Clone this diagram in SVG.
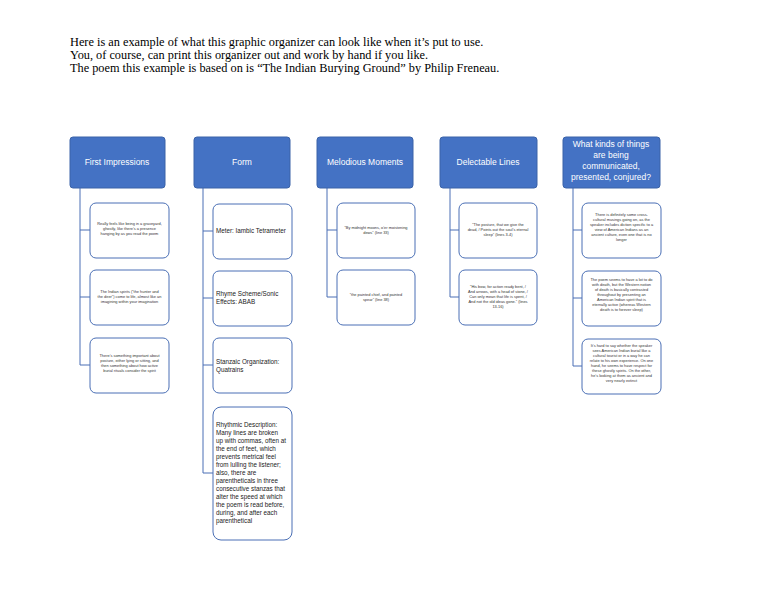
<svg xmlns="http://www.w3.org/2000/svg" width="768" height="594" viewBox="0 0 768 594">
<style>
.h{fill:#4472c4;stroke:#3a62a8;stroke-width:1}
.hb{fill:#fff;font-family:"Liberation Sans",sans-serif;font-size:8.5px;text-anchor:middle}
.c{fill:#fff;stroke:#4a6fb5;stroke-width:1}
.s{fill:#333;font-family:"Liberation Sans",sans-serif;font-size:3.9px;text-anchor:middle}
.m{fill:#222;font-family:"Liberation Sans",sans-serif;font-size:6.3px}
.t{fill:#000;font-family:"Liberation Serif",serif;font-size:12.3px}
.l{fill:none;stroke:#4a6fb5;stroke-width:1}
</style>
<rect width="768" height="594" fill="#fff"/>
<text class="t" x="70" y="46">Here is an example of what this graphic organizer can look like when it’s put to use.</text>
<text class="t" x="70" y="59">You, of course, can print this organizer out and work by hand if you like.</text>
<text class="t" x="70" y="72">The poem this example is based on is “The Indian Burying Ground” by Philip Freneau.</text>
<g id="connectors">
<path class="l" d="M80 188V365M80 230H90M80 297H90M80 365H90"/>
<path class="l" d="M203 188V473M203 231H213M203 298H213M203 365H213M203 473H213"/>
<path class="l" d="M327 188V297M327 230H337M327 297H337"/>
<path class="l" d="M450 188V297M450 230H460M450 297H460"/>
<path class="l" d="M573 188V366M573 230H582M573 298H582M573 366H582"/>
</g>
<g id="h1"><rect class="h" x="70" y="137" width="95" height="51" rx="3"/><text class="hb" x="117" y="165">First Impressions</text></g>
<g id="h2"><rect class="h" x="194" y="137" width="96" height="51" rx="3"/><text class="hb" x="242" y="165">Form</text></g>
<g id="h3"><rect class="h" x="317" y="137" width="96" height="51" rx="3"/><text class="hb" x="365" y="165">Melodious Moments</text></g>
<g id="h4"><rect class="h" x="440" y="137" width="97" height="51" rx="3"/><text class="hb" x="488" y="165">Delectable Lines</text></g>
<g id="h5"><rect class="h" x="563" y="137" width="97" height="51" rx="3"/><text class="hb" x="611" y="147">What kinds of things</text><text class="hb" x="611" y="158">are being</text><text class="hb" x="611" y="169">communicated,</text><text class="hb" x="611" y="180">presented, conjured?</text></g>

<g id="c1a"><rect class="c" x="90" y="203" width="79" height="55" rx="6"/><text class="s" x="129.5" y="225">Really feels like being in a graveyard,</text><text class="s" x="129.5" y="230">ghostly, like there’s a presence</text><text class="s" x="129.5" y="235">hanging by as you read the poem</text></g>
<g id="c1b"><rect class="c" x="90" y="270" width="79" height="55" rx="6"/><text class="s" x="129.5" y="293">The Indian spirits (“the hunter and</text><text class="s" x="129.5" y="298">the deer”) come to life, almost like an</text><text class="s" x="129.5" y="303">imagining within your imagination</text></g>
<g id="c1c"><rect class="c" x="90" y="338" width="79" height="55" rx="6"/><text class="s" x="129.5" y="357">There’s something important about</text><text class="s" x="129.5" y="362">posture, either lying or sitting, and</text><text class="s" x="129.5" y="367">then something about how active</text><text class="s" x="129.5" y="372">burial rituals consider the spirit</text></g>

<g id="c2a"><rect class="c" x="213" y="204" width="79" height="55" rx="6"/><text class="m" x="216" y="233">Meter: Iambic Tetrameter</text></g>
<g id="c2b"><rect class="c" x="213" y="271" width="79" height="55" rx="6"/><text class="m" x="216" y="296">Rhyme Scheme/Sonic</text><text class="m" x="216" y="304">Effects: ABAB</text></g>
<g id="c2c"><rect class="c" x="213" y="338" width="79" height="55" rx="6"/><text class="m" x="216" y="364">Stanzaic Organization:</text><text class="m" x="216" y="372">Quatrains</text></g>
<g id="c2d"><rect class="c" x="213" y="407" width="79" height="133" rx="8"/>
<text class="m" x="216" y="427">Rhythmic Description:</text><text class="m" x="216" y="435">Many lines are broken</text><text class="m" x="216" y="443">up with commas, often at</text><text class="m" x="216" y="451">the end of feet, which</text><text class="m" x="216" y="459">prevents metrical feel</text><text class="m" x="216" y="467">from lulling the listener;</text><text class="m" x="216" y="475">also, there are</text><text class="m" x="216" y="483">parentheticals in three</text><text class="m" x="216" y="491">consecutive stanzas that</text><text class="m" x="216" y="499">alter the speed at which</text><text class="m" x="216" y="507">the poem is read before,</text><text class="m" x="216" y="515">during, and after each</text><text class="m" x="216" y="523">parenthetical</text></g>

<g id="c3a"><rect class="c" x="337" y="203" width="78" height="55" rx="6"/><text class="s" x="376" y="229">“By midnight moons, o’er  moistening</text><text class="s" x="376" y="234">dews” (line 33)</text></g>
<g id="c3b"><rect class="c" x="337" y="270" width="78" height="55" rx="6"/><text class="s" x="376" y="296">“the painted chief, and painted</text><text class="s" x="376" y="301">spear” (line 38)</text></g>

<g id="c4a"><rect class="c" x="459" y="203" width="78" height="55" rx="6"/><text class="s" x="498" y="226">“The posture, that we give the</text><text class="s" x="498" y="231">dead, / Points out the soul’s eternal</text><text class="s" x="498" y="236">sleep” (lines 3-4)</text></g>
<g id="c4b"><rect class="c" x="459" y="270" width="78" height="55" rx="6"/><text class="s" x="498" y="288">“His bow, for action ready bent, /</text><text class="s" x="498" y="293">And arrows, with a head of stone, /</text><text class="s" x="498" y="298">Can only mean that life is spent, /</text><text class="s" x="498" y="303">And not the old ideas gone.” (lines</text><text class="s" x="498" y="308">13-16)</text></g>

<g id="c5a"><rect class="c" x="582" y="203" width="79" height="55" rx="6"/><text class="s" x="621.5" y="216">There is definitely some cross-</text><text class="s" x="621.5" y="221">cultural musings going on, as the</text><text class="s" x="621.5" y="226">speaker includes diction specific to a</text><text class="s" x="621.5" y="231">view of American Indians as an</text><text class="s" x="621.5" y="236">ancient culture, even one that is no</text><text class="s" x="621.5" y="241">longer</text></g>
<g id="c5b"><rect class="c" x="582" y="271" width="79" height="55" rx="6"/><text class="s" x="621.5" y="281">The poem seems to have a lot to do</text><text class="s" x="621.5" y="286">with death, but the Western notion</text><text class="s" x="621.5" y="291">of death is basically contrasted</text><text class="s" x="621.5" y="296">throughout by presenting an</text><text class="s" x="621.5" y="301">American Indian spirit that is</text><text class="s" x="621.5" y="306">eternally active (whereas Western</text><text class="s" x="621.5" y="311">death is to forever sleep)</text></g>
<g id="c5c"><rect class="c" x="582" y="339" width="79" height="55" rx="6"/><text class="s" x="621.5" y="347">It’s hard to say whether the speaker</text><text class="s" x="621.5" y="352">sees American Indian burial like a</text><text class="s" x="621.5" y="357">cultural tourist or in a way he can</text><text class="s" x="621.5" y="362">relate to his own experience. On one</text><text class="s" x="621.5" y="367">hand, he seems to have respect for</text><text class="s" x="621.5" y="372">these ghostly spirits. On the other,</text><text class="s" x="621.5" y="377">he’s looking at them as ancient and</text><text class="s" x="621.5" y="382">very nearly extinct</text></g>
</svg>
